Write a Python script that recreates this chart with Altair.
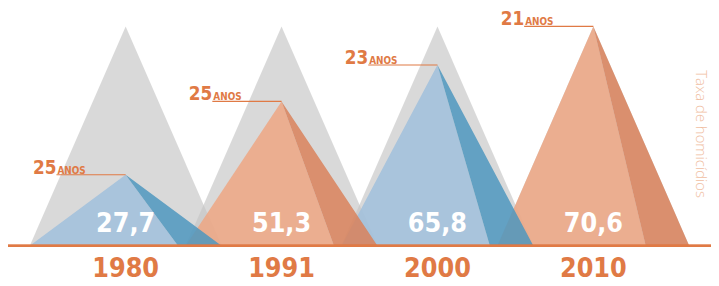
import altair as alt
import pandas as pd

# ---- data ----
anos = ["1980", "1991", "2000", "2010"]
posicao = [0, 1, 2, 3]
taxa = ["27,7", "51,3", "65,8", "70,6"]
altura_pico = [32.4, 65.8, 82.4, 100.0]   # apex height of coloured triangle
altura_cinza = [100.0, 100.0, 100.0, 100.0]  # grey backdrop triangles
idade = ["25", "25", "23", "21"]
tom = ["azul", "laranja", "azul", "laranja"]

meia_base = 0.615   # half base width (x units)
corte = 0.336       # where the darker face starts (x units right of apex)
recuo_rotulo = 0.444  # leader line length (x units)

rows = []
for a, p, h, hc, t in zip(anos, posicao, altura_pico, altura_cinza, tom):
    L, R, S = p - meia_base, p + meia_base, p + corte
    for x, y in [(L, 0), (p, hc), (R, 0)]:
        rows.append(dict(ano=a, peca=a + "c", cor="cinza", x=x, y=y, y2=0))
    for x, y in [(L, 0), (p, h), (S, 0)]:
        rows.append(dict(ano=a, peca=a + "l", cor=t + "_claro", x=x, y=y, y2=0))
    ys = h * (R - S) / (R - p)
    for x, y, y2 in [(p, h, h), (S, ys, 0), (R, 0, 0)]:
        rows.append(dict(ano=a, peca=a + "d", cor=t + "_escuro", x=x, y=y, y2=y2))
poly = pd.DataFrame(rows)

labels = pd.DataFrame(dict(ano=anos, pos=posicao, taxa=taxa, h=altura_pico, idade=idade))
labels["xl"] = labels["pos"] - recuo_rotulo
labels["yano"] = -10.4
labels["ytaxa"] = 9.9
labels["anos_txt"] = "ANOS"

xs = alt.Scale(domain=[-0.7547, 3.7546], nice=False, zero=False)
ys_ = alt.Scale(domain=[-17.57, 107.66], nice=False, zero=False)

cores = alt.Scale(
    domain=["cinza", "azul_claro", "azul_escuro", "laranja_claro", "laranja_escuro"],
    range=["#c4c4c4", "#a0c0dc", "#4e96be", "#edA682", "#d9815b"],
)

COND = "'Liberation Sans Narrow', 'DejaVu Sans Condensed', sans-serif"
LARANJA = "#e07a45"

cinza = alt.Chart(poly).transform_filter(alt.datum.cor == "cinza").mark_area(opacity=0.65).encode(
    x=alt.X("x:Q", scale=xs, axis=None),
    y=alt.Y("y:Q", scale=ys_, axis=None, stack=None),
    y2="y2:Q",
    color=alt.Color("cor:N", scale=cores, legend=None),
    detail="peca:N",
)

camadas = [cinza]
for a in reversed(anos):
    camadas.append(
        alt.Chart(poly)
        .transform_filter((alt.datum.ano == a) & (alt.datum.cor != "cinza"))
        .mark_area(opacity=0.85)
        .encode(
            x=alt.X("x:Q", scale=xs, axis=None),
            y=alt.Y("y:Q", scale=ys_, axis=None, stack=None),
            y2="y2:Q",
            color=alt.Color("cor:N", scale=cores, legend=None),
            detail="peca:N",
        )
    )

base_line = alt.Chart(labels).mark_rule(color=LARANJA, strokeWidth=2.5).encode(
    y=alt.Y(datum=0, scale=ys_),
    x=alt.value(-2),
    x2=alt.value(711),
)

guia = alt.Chart(labels).mark_rule(color=LARANJA, strokeWidth=1.2).encode(
    x=alt.X("xl:Q", scale=xs),
    x2="pos:Q",
    y=alt.Y("h:Q", scale=ys_),
)

idade_txt = alt.Chart(labels).mark_text(
    font=COND, fontSize=19, fontWeight="bold", color=LARANJA, align="right", baseline="alphabetic", dy=-1
).encode(x=alt.X("xl:Q", scale=xs), y=alt.Y("h:Q", scale=ys_), text="idade:N")

anos_txt = alt.Chart(labels).mark_text(
    font=COND, fontSize=10, fontWeight="bold", color=LARANJA, align="left", baseline="alphabetic", dx=1, dy=-1
).encode(x=alt.X("xl:Q", scale=xs), y=alt.Y("h:Q", scale=ys_), text="anos_txt:N")

ano_lbl = alt.Chart(labels).mark_text(
    font=COND, fontSize=27, fontWeight="bold", color=LARANJA, baseline="middle"
).encode(x=alt.X("pos:Q", scale=xs), y=alt.Y("yano:Q", scale=ys_), text="ano:N")

taxa_lbl = alt.Chart(labels).mark_text(
    font=COND, fontSize=27, fontWeight="bold", color="white", baseline="middle"
).encode(x=alt.X("pos:Q", scale=xs), y=alt.Y("ytaxa:Q", scale=ys_), text="taxa:N")

titulo = alt.Chart(pd.DataFrame(dict(t=["Taxa de homicídios"]))).mark_text(
    font="Open Sans", fontWeight=300, fontSize=15, color="#f0bea2", angle=90, align="center", baseline="middle"
).encode(x=alt.value(701), y=alt.value(126), text="t:N")

chart = alt.layer(*camadas, base_line, guia, idade_txt, anos_txt, ano_lbl, taxa_lbl, titulo).properties(
    width=711, height=278, padding=0, autosize=alt.AutoSizeParams(type="none"), background="white"
).configure_view(stroke=None)

chart.save("out.html", embed_options={"renderer": "svg", "actions": False})
